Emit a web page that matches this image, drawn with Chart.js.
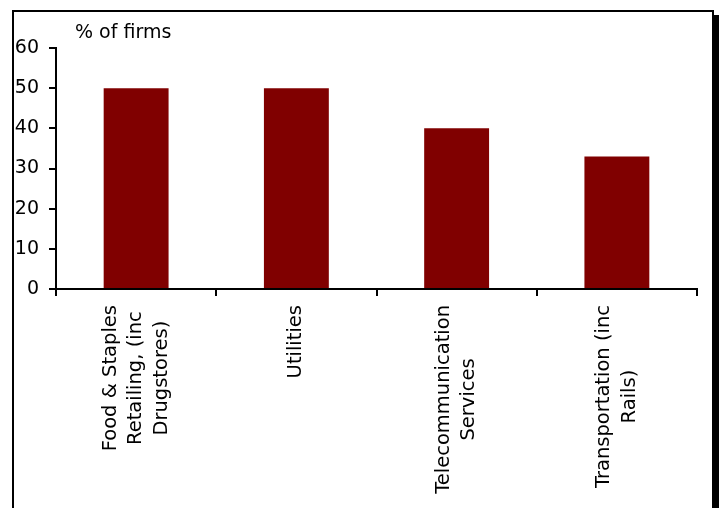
<!DOCTYPE html>
<html>
<head>
<meta charset="utf-8">
<script src="https://cdn.jsdelivr.net/npm/chart.js@4"></script>
<style>
  html, body { margin: 0; padding: 0; background: #fff; overflow: hidden; }
  #frame {
    position: absolute; left: 12px; top: 10px;
    width: 698px; height: 600px;
    border: 2px solid #000;
    box-shadow: 5px 5px 0 #000;
    background: #fff;
  }
  #chart { position: absolute; left: 0; top: 0; z-index: 2; }
</style>
</head>
<body>
<div id="frame"></div>
<canvas id="chart" width="719" height="508"></canvas>
<script>
// ==== Data ====
const categories = [
    ['Food & Staples', 'Retailing, (inc', 'Drugstores)'],
    ['Utilities'],
    ['Telecommunication', 'Services'],
    ['Transportation (inc', 'Rails)']
];
const shares = [50, 50, 40, 33];      // % of firms
const yTicks = [0, 10, 20, 30, 40, 50, 60];
const unitLabel = '% of firms';

const LABEL_FONT = '19.5px "DejaVu Sans"';
const UNIT_FONT = '19px "DejaVu Sans"';

Chart.defaults.font.family = '"DejaVu Sans", Verdana, sans-serif';
Chart.defaults.font.size = 19;
Chart.defaults.color = '#000';

// draws the category labels centred line by line (Chart.js right-aligns rotated ones)
const centredLabels = {
    id: 'centredLabels',
    afterDraw(chart) {
        const ctx = chart.ctx;
        const xs = chart.scales.x;
        ctx.save();
        ctx.font = LABEL_FONT;
        ctx.fillStyle = '#000';
        ctx.textAlign = 'center';
        ctx.textBaseline = 'middle';
        categories.forEach((lines, i) => {
            const cx = xs.getPixelForTick(i);
            const w = Math.max(...lines.map(l => ctx.measureText(l).width));
            const top = xs.top + 16;
            ctx.save();
            ctx.translate(cx, top + w / 2);
            ctx.rotate(-Math.PI / 2);
            lines.forEach((line, j) => {
                ctx.fillText(line, 0, (j - (lines.length - 1) / 2) * 25.5);
            });
            ctx.restore();
        });
        // unit label above the plot
        ctx.font = UNIT_FONT;
        ctx.textAlign = 'left';
        ctx.textBaseline = 'alphabetic';
        ctx.fillText(unitLabel, chart.chartArea.left + 19, chart.chartArea.top - 10);
        ctx.restore();
    }
};

const chart = new Chart(document.getElementById('chart').getContext('2d'), {
    type: 'bar',
    data: {
        labels: categories,
        datasets: [{
            label: unitLabel,
            data: shares,
            backgroundColor: '#800000',
            borderWidth: 0,
            barPercentage: 0.405,
            categoryPercentage: 1
        }]
    },
    options: {
        responsive: false,
        animation: false,
        devicePixelRatio: 1,
        layout: { padding: { top: 48, right: 22, bottom: 0, left: 0 } },
        plugins: {
            legend: { display: false },
            tooltip: { enabled: false }
        },
        scales: {
            x: {
                offset: true,
                grid: { offset: true, drawOnChartArea: false, drawTicks: true, tickLength: 7, color: '#000', lineWidth: 2 },
                border: { display: true, color: '#000', width: 2 },
                ticks: { color: 'rgba(0,0,0,0)', autoSkip: false, maxRotation: 90, minRotation: 90 },
                afterFit(scale) {
                    scale.height = 508 - 289;
                    scale.paddingLeft = 0;
                    scale.paddingRight = 0;
                }
            },
            y: {
                min: yTicks[0],
                max: yTicks[yTicks.length - 1],
                afterBuildTicks(scale) {
                    scale.ticks = yTicks.map(v => ({ value: v }));
                },
                grid: { drawOnChartArea: false, drawTicks: true, tickLength: 7, color: '#000', lineWidth: 2 },
                border: { display: true, color: '#000', width: 2 },
                ticks: { padding: 10, color: '#000' },
                afterFit(scale) {
                    scale.width = 56;
                }
            }
        }
    },
    plugins: [centredLabels]
});
</script>
</body>
</html>
